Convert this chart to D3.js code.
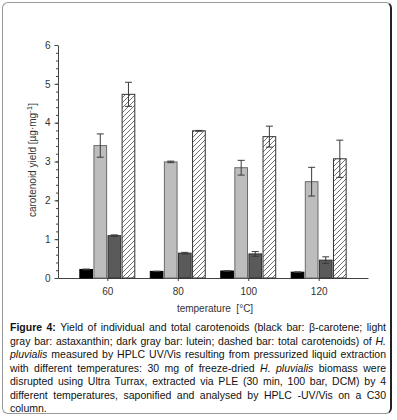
<!DOCTYPE html>
<html>
<head>
<meta charset="utf-8">
<script src="https://cdn.jsdelivr.net/npm/d3@7"></script>
<style>
  body { margin: 0; background: #fff; }
  #wrap { position: relative; width: 397px; height: 420px; }
  #frame {
    position: absolute; left: 2px; top: 2px; width: 387px; height: 410px;
    border: 1px solid #999; border-right: 2px solid #222; border-radius: 6px;
  }
  #chart { position: absolute; left: 0; top: 0; }
  #caption {
    position: absolute; left: 10px; top: 321px; width: 376px;
    font-family: "Liberation Sans", Arial, sans-serif; font-size: 10.5px;
    line-height: 13.5px; color: #111;
  }
  #caption div { text-align: justify; text-align-last: justify; white-space: nowrap; }
  #caption div.last { text-align-last: left; }
</style>
</head>
<body>
<div id="wrap">
  <div id="frame"></div>
  <svg id="chart" width="397" height="420"></svg>
  <div id="caption">
    <div><b>Figure 4:</b> Yield of individual and total carotenoids (black bar: β-carotene; light</div>
    <div>gray bar: astaxanthin; dark gray bar: lutein; dashed bar: total carotenoids) of <i>H.</i></div>
    <div><i>pluvialis</i> measured by HPLC UV/Vis resulting from pressurized liquid extraction</div>
    <div>with different temperatures: 30 mg of freeze-dried <i>H. pluvialis</i> biomass were</div>
    <div>disrupted using Ultra Turrax, extracted via PLE (30 min, 100 bar, DCM) by 4</div>
    <div>different temperatures, saponified and analysed by HPLC -UV/Vis on a C30</div>
    <div class="last">column.</div>
  </div>
</div>
<script>
// temperatures [°C]
const temps = [60, 80, 100, 120];
// yields [µg mg-1] and errors
const betaCarotene = [0.22, 0.17, 0.18, 0.15];
const betaCaroteneErr = [0.01, 0.005, 0.005, 0.005];
const astaxanthin = [3.41, 2.99, 2.84, 2.48];
const astaxanthinErr = [0.30, 0.02, 0.19, 0.37];
const lutein = [1.09, 0.64, 0.62, 0.46];
const luteinErr = [0.02, 0.02, 0.06, 0.085];
const total = [4.73, 3.79, 3.64, 3.07];
const totalErr = [0.31, 0.01, 0.27, 0.48];
const yTicks = [0, 1, 2, 3, 4, 5, 6];

const series = [
  { name: 'beta-carotene', values: betaCarotene, err: betaCaroteneErr, offset: -6, fill: '#000', stroke: '#000' },
  { name: 'astaxanthin', values: astaxanthin, err: astaxanthinErr, offset: -2, fill: '#bdbdbd', stroke: '#6a6a6a' },
  { name: 'lutein', values: lutein, err: luteinErr, offset: 2, fill: '#5a5a5a', stroke: '#2e2e2e' },
  { name: 'total', values: total, err: totalErr, offset: 6, fill: 'url(#hatch)', stroke: '#333' }
];
const barW = 3.6; // in °C units

const svg = d3.select('#chart');
const font = '"Liberation Sans", Arial, sans-serif';

// hatch pattern for total carotenoids
svg.append('defs').append('pattern')
  .attr('id', 'hatch')
  .attr('patternUnits', 'userSpaceOnUse')
  .attr('width', 5).attr('height', 5)
  .call(p => {
    p.append('rect').attr('width', 5).attr('height', 5).attr('fill', '#fff');
    p.append('path')
      .attr('d', 'M-1,1 L1,-1 M0,5 L5,0 M4,6 L6,4')
      .attr('stroke', '#333').attr('stroke-width', 0.7);
  });

const x = d3.scaleLinear().domain([46, 134]).range([58, 368]);
const y = d3.scaleLinear().domain([0, 6]).range([278, 45]);

// y axis, minor ticks
const yAxis = svg.append('g')
  .attr('transform', 'translate(58,0)')
  .call(d3.axisLeft(y).tickValues(d3.range(0, 6.01, 0.2)).tickSize(2).tickFormat(''));
yAxis.select('.domain').remove();
yAxis.selectAll('line').attr('stroke', '#444');

// y axis, major ticks
const yMajor = svg.append('g')
  .attr('transform', 'translate(58,0)')
  .call(d3.axisLeft(y).tickValues(yTicks).tickFormat(d3.format('d')).tickSize(3.5).tickPadding(4).tickSizeOuter(0));
yMajor.select('.domain').attr('stroke', '#444');
yMajor.selectAll('line').attr('stroke', '#444');
yMajor.selectAll('text').attr('font-family', font).attr('font-size', 10).attr('fill', '#333');

// x axis
const xAxis = svg.append('g')
  .attr('transform', 'translate(0,278)')
  .call(d3.axisBottom(x).tickValues(temps).tickSize(3).tickPadding(7).tickSizeOuter(0));
xAxis.select('.domain').attr('stroke', '#444');
xAxis.selectAll('line').attr('stroke', '#444');
xAxis.selectAll('text').attr('font-family', font).attr('font-size', 10).attr('fill', '#333');

// bars
series.forEach(s => {
  const g = svg.append('g');
  g.selectAll('rect')
    .data(temps)
    .join('rect')
    .attr('x', (d) => x(d + s.offset - barW / 2))
    .attr('width', x(barW) - x(0))
    .attr('y', (d, i) => y(s.values[i]))
    .attr('height', (d, i) => y(0) - y(s.values[i]))
    .attr('fill', s.fill)
    .attr('stroke', s.stroke)
    .attr('stroke-width', 1);

  // error bars
  const eb = g.selectAll('g.err')
    .data(temps)
    .join('g')
    .attr('class', 'err')
    .attr('stroke', '#3a3a3a')
    .attr('stroke-width', 1);
  eb.append('line')
    .attr('x1', d => x(d + s.offset)).attr('x2', d => x(d + s.offset))
    .attr('y1', (d, i) => y(s.values[i] + s.err[i]))
    .attr('y2', (d, i) => y(s.values[i] - s.err[i]));
  [1, -1].forEach(sign => {
    eb.append('line')
      .attr('x1', d => x(d + s.offset) - 3.5).attr('x2', d => x(d + s.offset) + 3.5)
      .attr('y1', (d, i) => y(s.values[i] + sign * s.err[i]))
      .attr('y2', (d, i) => y(s.values[i] + sign * s.err[i]));
  });
});

// axis labels
svg.append('text')
  .attr('transform', 'translate(36,160) rotate(-90)')
  .attr('text-anchor', 'middle')
  .attr('font-family', font)
  .attr('font-size', 10)
  .attr('fill', '#333')
  .call(t => {
    t.append('tspan').text('carotenoid yield [µg·mg');
    t.append('tspan').attr('dy', -4).attr('font-size', 8).text('-1');
    t.append('tspan').attr('dy', 4).text(']');
  });

svg.append('text')
  .attr('x', 215)
  .attr('y', 312)
  .attr('text-anchor', 'middle')
  .attr('font-family', font)
  .attr('font-size', 10)
  .attr('fill', '#333')
  .attr('xml:space', 'preserve')
  .text('temperature  [°C]');
</script>
</body>
</html>
